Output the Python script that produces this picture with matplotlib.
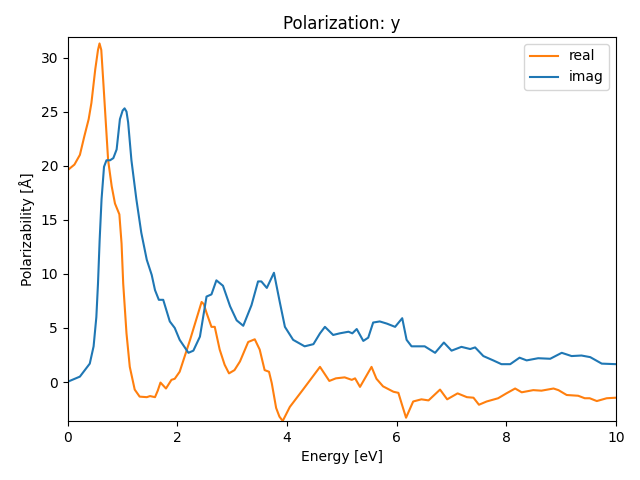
import matplotlib
matplotlib.use("Agg")
import matplotlib.pyplot as plt

# real part
real_x = [0.0, 0.12, 0.22, 0.30, 0.38, 0.43, 0.50, 0.55, 0.578, 0.61, 0.65, 0.69,
          0.735, 0.80, 0.86, 0.94, 0.98, 1.01, 1.07, 1.13, 1.22, 1.31, 1.44, 1.5,
          1.59, 1.64, 1.69, 1.79, 1.89, 1.95, 2.04, 2.23, 2.44, 2.48, 2.53,
          2.62, 2.68, 2.77, 2.86, 2.94, 3.04, 3.14, 3.29, 3.41, 3.50, 3.59, 3.67, 3.72, 3.80,
          3.86, 3.92, 4.05, 4.29, 4.60, 4.77, 4.89, 5.05, 5.18, 5.24, 5.33, 5.54, 5.63,
          5.75, 5.94, 6.03, 6.09, 6.17, 6.30, 6.45, 6.58, 6.79, 6.92, 7.11, 7.28,
          7.40, 7.50, 7.64, 7.85, 8.0, 8.16, 8.28, 8.49, 8.64, 8.86, 8.95, 9.10,
          9.31, 9.43, 9.52, 9.65, 9.83, 10.0]
real_y = [19.6, 20.1, 21.0, 22.7, 24.3, 25.8, 28.9, 30.7, 31.3, 30.7, 27.5, 24.2,
          20.5, 18.1, 16.5, 15.5, 12.8, 9.1, 4.5, 1.4, -0.7, -1.35, -1.4, -1.3,
          -1.4, -0.8, -0.05, -0.6, 0.2, 0.3, 0.95, 3.9, 7.4, 7.2, 6.4,
          5.1, 5.1, 3.0, 1.6, 0.8, 1.1, 1.9, 3.7, 3.95, 3.0, 1.1, 0.95, -0.1, -2.4,
          -3.2, -3.6, -2.3, -0.7, 1.4, 0.1, 0.34, 0.43, 0.2, 0.34, -0.45, 1.4, 0.3,
          -0.4, -0.9, -1.0, -2.0, -3.3, -1.8, -1.6, -1.7, -0.7, -1.6, -1.05, -1.4,
          -1.45, -2.1, -1.8, -1.5, -1.05, -0.6, -0.95, -0.75, -0.8, -0.6, -0.75, -1.2,
          -1.27, -1.5, -1.5, -1.76, -1.5, -1.45]

# imaginary part
imag_x = [0.0, 0.22, 0.40, 0.47, 0.52, 0.55, 0.58, 0.615, 0.66, 0.705, 0.77, 0.83,
          0.89, 0.95, 1.0, 1.035, 1.07, 1.10, 1.16, 1.25, 1.34, 1.44, 1.53, 1.59, 1.66,
          1.74, 1.86, 1.95, 2.04, 2.20,
          2.29, 2.41, 2.53, 2.62, 2.71, 2.83, 2.96, 3.08, 3.20, 3.35, 3.47, 3.53,
          3.63, 3.76, 3.87, 3.96, 4.11, 4.32, 4.48, 4.60, 4.69, 4.84, 4.96, 5.12,
          5.19, 5.27, 5.39, 5.48, 5.57, 5.69, 5.82, 5.97, 6.10, 6.18, 6.27, 6.51,
          6.70, 6.86, 7.0, 7.18, 7.34, 7.43, 7.58, 7.76, 7.91, 8.07, 8.24, 8.37,
          8.58, 8.80, 9.01, 9.19, 9.37, 9.53, 9.74, 10.0]
imag_y = [0.03, 0.5, 1.7, 3.3, 6.0, 9.1, 13.1, 16.9, 19.9, 20.5, 20.5, 20.7,
          21.5, 24.3, 25.1, 25.3, 25.0, 24.0, 20.5, 16.9, 13.8, 11.3, 9.9, 8.5, 7.6,
          7.6, 5.6, 5.0, 3.9, 2.7,
          2.9, 4.2, 7.9, 8.1, 9.4, 8.9, 7.0, 5.7, 5.2, 7.1, 9.3, 9.3,
          8.7, 10.1, 7.3, 5.1, 3.9, 3.3, 3.5, 4.5, 5.1, 4.35, 4.5, 4.65,
          4.5, 4.9, 3.8, 4.1, 5.5, 5.6, 5.4, 5.1, 5.9, 3.9, 3.3, 3.3,
          2.7, 3.65, 2.9, 3.25, 3.05, 3.2, 2.4, 2.0, 1.65, 1.65, 2.25, 2.0,
          2.2, 2.15, 2.7, 2.4, 2.45, 2.3, 1.7, 1.65]

fig, ax = plt.subplots(figsize=(6.4, 4.8), dpi=100)
ax.plot(real_x, real_y, color="C1", label="real")
ax.plot(imag_x, imag_y, color="C0", label="imag")
ax.set_xlim(0, 10)
ax.set_ylim(-3.6, 31.9)
ax.set_title("Polarization: y")
ax.set_xlabel("Energy [eV]")
ax.set_ylabel("Polarizability [Å]")
ax.legend(loc="upper right")
fig.subplots_adjust(left=0.106, right=0.9625, top=0.923, bottom=0.123)
fig.savefig("out.png")
